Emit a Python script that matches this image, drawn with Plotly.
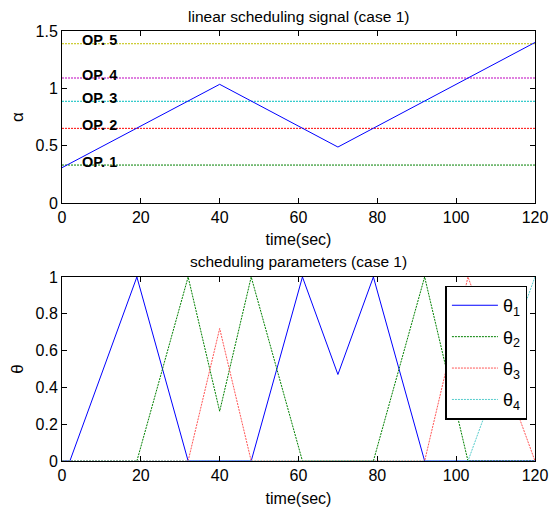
import plotly.graph_objects as go

# ---- data ----
alpha_t = [0, 40, 70, 120]
alpha_v = [0.308, 1.035, 0.488, 1.40]

op_names = ["OP. 1", "OP. 2", "OP. 3", "OP. 4", "OP. 5"]
op_values = [0.331, 0.651, 0.887, 1.09, 1.389]
op_colors = ["#008000", "#FF0000", "#00BFBF", "#BF00BF", "#BFBF00"]

th1_t = [0, 2, 19, 32, 48, 61, 70, 79, 92, 120]
th1_v = [0, 0, 1, 0, 0, 1, 0.47, 1, 0, 0]
th2_t = [0, 19, 32, 40, 48, 61, 79, 92, 103, 120]
th2_v = [0, 0, 1, 0.27, 1, 0, 0, 1, 0, 0]
th3_t = [0, 32, 40, 48, 92, 103, 120]
th3_v = [0, 0, 0.72, 0, 0, 1, 0]
th4_t = [0, 103, 120]
th4_v = [0, 0, 1]

theta_names = ["θ<sub>1</sub>", "θ<sub>2</sub>", "θ<sub>3</sub>", "θ<sub>4</sub>"]
theta_colors = ["#0000FF", "#008000", "#FF5555", "#55CCCC"]
theta_dash = ["solid", "2px,1px", "2px,1px", "2px,1px"]

x_ticks = [0, 20, 40, 60, 80, 100, 120]
top_y_ticks = [0, 0.5, 1, 1.5]
top_y_labels = ["0", "0.5", "1", "1.5"]
bot_y_ticks = [0, 0.2, 0.4, 0.6, 0.8, 1]
bot_y_labels = ["0", "0.2", "0.4", "0.6", "0.8", "1"]

FONT = "Liberation Sans, Arial, Helvetica, sans-serif"
PLOT_H = 430  # plot-area height in px (t/b margins below)

fig = go.Figure()

# top: operating points
for name, v, c in zip(op_names, op_values, op_colors):
    fig.add_trace(go.Scatter(x=[0, 120], y=[v, v], mode="lines",
                             line=dict(color=c, width=1, dash="2px,1px"),
                             showlegend=False, xaxis="x", yaxis="y"))
    fig.add_annotation(x=4.6, y=v + 0.03, xref="x", yref="y", text="<b>" + name + "</b>",
                       showarrow=False, xanchor="left", yanchor="middle",
                       font=dict(family=FONT, size=14.5, color="black"))

fig.add_trace(go.Scatter(x=alpha_t, y=alpha_v, mode="lines",
                         line=dict(color="#0000FF", width=1),
                         showlegend=False, xaxis="x", yaxis="y"))

# bottom: scheduling parameters
for i, (t, v) in enumerate([(th1_t, th1_v), (th2_t, th2_v), (th3_t, th3_v), (th4_t, th4_v)]):
    fig.add_trace(go.Scatter(x=t, y=v, mode="lines", name=theta_names[i],
                             legendgroup="g%d" % i,
                             line=dict(color=theta_colors[i], width=1, dash=theta_dash[i]),
                             xaxis="x2", yaxis="y2"))

axis_common = dict(showline=True, linecolor="black", linewidth=1, mirror="ticks",
                   ticks="inside", ticklen=5, tickcolor="black", showgrid=False,
                   zeroline=False, tickfont=dict(family=FONT, size=16, color="black"))

fig.update_layout(
    width=552, height=502,
    margin=dict(l=54, r=25, t=23, b=49, autoexpand=False),
    paper_bgcolor="white", plot_bgcolor="white",
    font=dict(family=FONT, color="black"),
    xaxis=dict(domain=[0, 1], range=[0, 120], tickvals=x_ticks, anchor="y",
               title=dict(text="time(sec)", font=dict(family=FONT, size=16), standoff=8),
               **axis_common),
    yaxis=dict(domain=[0.6, 1], range=[0, 1.5], tickvals=top_y_ticks, ticktext=top_y_labels,
               anchor="x", title=dict(text="α", font=dict(family=FONT, size=17), standoff=8),
               **axis_common),
    xaxis2=dict(domain=[0, 1], range=[0, 120], tickvals=x_ticks, anchor="y2",
                title=dict(text="time(sec)", font=dict(family=FONT, size=16), standoff=9),
                **axis_common),
    yaxis2=dict(domain=[0, 0.428], range=[0, 1], tickvals=bot_y_ticks, ticktext=bot_y_labels,
                anchor="x2", title=dict(text="θ", font=dict(family=FONT, size=17), standoff=8),
                **axis_common),
    legend=dict(x=0.984, y=0.408, xanchor="right", yanchor="top",
                bgcolor="white", bordercolor="black", borderwidth=1.5,
                font=dict(family=FONT, size=18, color="black"),
                tracegroupgap=5, itemwidth=46),
    showlegend=True,
)

fig.add_annotation(text="linear scheduling signal (case 1)", x=0.5, y=1 + 14 / PLOT_H,
                   xref="paper", yref="paper", showarrow=False, yanchor="middle",
                   borderpad=0, font=dict(family=FONT, size=15.5))
fig.add_annotation(text="scheduling parameters (case 1)", x=0.5, y=(461 - 261) / PLOT_H,
                   xref="paper", yref="paper", showarrow=False, yanchor="middle",
                   borderpad=0, font=dict(family=FONT, size=15.5))

fig.write_html("out.html")
